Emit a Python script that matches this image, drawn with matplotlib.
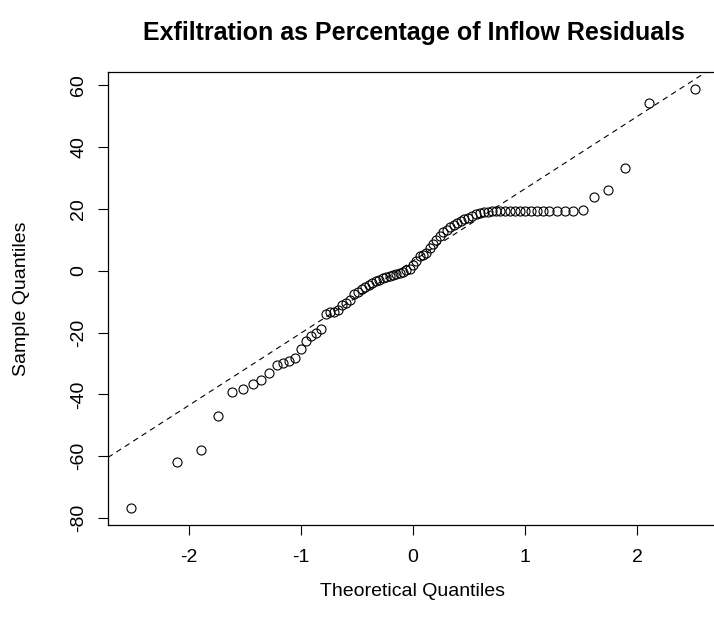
import matplotlib
matplotlib.use("Agg")
import matplotlib.pyplot as plt
import numpy as np
from statistics import NormalDist

# sorted residuals (exfiltration as % of inflow)
residuals = [
    -76.8, -62.0, -58.0, -47.0, -39.2, -38.4, -36.6, -35.3, -33.0, -30.4,
    -30.0, -29.3, -28.2, -25.2, -22.9, -21.1, -20.0, -18.7, -13.9, -13.5,
    -13.3, -12.6, -11.0, -10.3, -9.5, -7.4, -6.9, -6.0, -5.3, -4.6,
    -4.0, -3.3, -2.9, -2.4, -2.0, -1.6, -1.3, -1.0, -0.6, -0.3,
    0.1, 0.4, 1.8, 3.0, 4.6, 5.2, 5.6, 7.2, 8.6, 10.0,
    11.3, 12.4, 13.3, 14.2, 14.8, 15.4, 16.0, 16.6, 17.1, 17.7,
    18.4, 18.8, 18.9, 18.9, 19.2, 19.3, 19.3, 19.3, 19.3, 19.3,
    19.3, 19.3, 19.3, 19.3, 19.3, 19.3, 19.3, 19.3, 19.3, 19.6,
    23.7, 26.1, 33.2, 54.1, 58.8,
]
x_ticks = [-2, -1, 0, 1, 2]
y_ticks = [-80, -60, -40, -20, 0, 20, 40, 60]

plt.rcParams['font.family'] = ['Liberation Sans', 'DejaVu Sans']
plt.rcParams['axes.unicode_minus'] = False

y = np.sort(np.array(residuals))
n = len(y)
# theoretical quantiles, same plotting positions as R's ppoints()
nd = NormalDist()
theo = np.array([nd.inv_cdf((i - 0.5) / n) for i in range(1, n + 1)])

# reference line through the first and third quartiles
q_y = np.percentile(y, [25, 75])
q_x = np.array([nd.inv_cdf(0.25), nd.inv_cdf(0.75)])
slope = (q_y[1] - q_y[0]) / (q_x[1] - q_x[0])
intercept = q_y[0] - slope * q_x[0]

fig = plt.figure(figsize=(7.14, 6.28), dpi=100)
ax = fig.add_axes([108 / 714, 1 - 525 / 628, 610 / 714, 453 / 628])

ax.plot(theo, y, linestyle='none', marker='o', markersize=6.5,
        markerfacecolor='none', markeredgecolor='black', markeredgewidth=0.8)

xr = theo.max() - theo.min()
yr = y.max() - y.min()
xlim = (theo.min() - 0.04 * xr, theo.max() + 0.04 * xr)
ylim = (y.min() - 0.04 * yr, y.max() + 0.04 * yr)
ax.axline((0, intercept), slope=slope, color='black', linewidth=0.8,
          linestyle=(0, (5, 4)))
ax.set_xlim(xlim)
ax.set_ylim(ylim)

ax.set_xticks(x_ticks)
ax.set_yticks(y_ticks)
ax.tick_params(direction='out', length=7, width=0.8, labelsize=14)
ax.tick_params(axis='x', pad=10)
ax.tick_params(axis='y', labelrotation=90, pad=8)
for lab in ax.get_yticklabels():
    lab.set_va('center')
for s in ax.spines.values():
    s.set_linewidth(0.9)

ax.set_xlabel('Theoretical Quantiles', fontsize=14)
ax.set_ylabel('Sample Quantiles', fontsize=14)
ax.xaxis.set_label_coords(0.5, -(592 - 525) / 453)
ax.xaxis.label.set_va('center')
ax.yaxis.set_label_coords(-(108 - 22) / 610, 0.5)
ax.yaxis.label.set_va('center')

fig.text(414 / 714, 1 - 33 / 628, 'Exfiltration as Percentage of Inflow Residuals',
         ha='center', va='center', fontsize=18, fontweight='bold')

fig.savefig('out.png', dpi=100)
